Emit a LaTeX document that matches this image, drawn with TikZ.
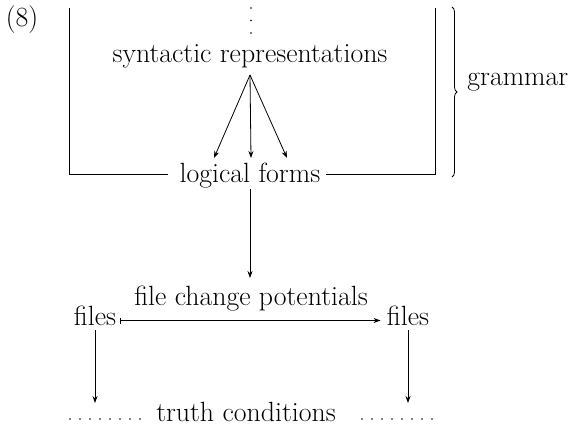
\documentclass[tikz,border=0pt]{standalone}
\usetikzlibrary{arrows.meta,decorations.pathreplacing}
\begin{document}
\begin{tikzpicture}[x=1pt,y=-1pt, line width=0.8pt,
  txt/.style={font=\fontsize{27.8}{33}\selectfont, inner sep=0pt, anchor=base},
  arr/.style={-{Stealth[length=7pt,width=5pt]}},
  dotrow/.style={line width=1.9pt, line cap=round, dash pattern=on 0pt off 10pt},
  vdots/.style={line width=1.9pt, line cap=round, dash pattern=on 0pt off 12.5pt}]
\useasboundingbox (0,0) rectangle (569,425);
% texts
\node[txt] (ex)  at (22,27)   {(8)};
\node[txt] (syn) at (250,63)  {syntactic representations};
\node[txt] (lf)  at (250,182) {logical forms};
\node[txt, anchor=base west] (gr) at (467,85) {grammar};
\node[txt] (fcp) at (251,305) {file change potentials};
\node[txt] (fl)  at (95,325)  {files};
\node[txt] (fr)  at (408,325) {files};
\node[txt] (tc)  at (246,421) {truth conditions};
% coordinates
\coordinate (dtop) at (251,8);
\coordinate (dbot) at (251,33.5);
\coordinate (o)  at (250,75);
\coordinate (t1) at (214,158);
\coordinate (t2) at (251,158);
\coordinate (t3) at (287,158);
\coordinate (lt) at (69,8);
\coordinate (lb) at (69,174);
\coordinate (le) at (168,174);
\coordinate (rt) at (435,8);
\coordinate (rb) at (435,174);
\coordinate (re) at (326,174);
\coordinate (bt) at (452,7);
\coordinate (bb) at (452,177);
\coordinate (lfo) at (250,189);
\coordinate (fcpi) at (250,278);
\coordinate (al) at (95,403);
\coordinate (ar) at (408,403);
\coordinate (dl1) at (70,419);
\coordinate (dl2) at (140.5,419);
\coordinate (dr1) at (362,419);
\coordinate (dr2) at (432.5,419);
% drawing
\draw[vdots] (dtop) -- (dbot);
\draw[arr] (o) -- (t1);
\draw[arr] (o) -- (t2);
\draw[arr] (o) -- (t3);
\draw (le) -- (lb) -- (lt);
\draw (re) -- (rb) -- (rt);
\draw[decorate, decoration={brace, amplitude=5pt}] (bt) -- (bb);
\draw[arr] (lfo) -- (fcpi);
\draw[{Bar[width=6pt]}-{Stealth[length=7pt,width=5pt]}]
  ([xshift=4pt,yshift=4.5pt]fl.base east) -- ([xshift=-6pt,yshift=4.5pt]fr.base west);
\draw[arr] ([yshift=-5pt]fl.base) -- (al);
\draw[arr] ([yshift=-5pt]fr.base) -- (ar);
\draw[dotrow] (dl1) -- (dl2);
\draw[dotrow] (dr1) -- (dr2);
\end{tikzpicture}
\end{document}
